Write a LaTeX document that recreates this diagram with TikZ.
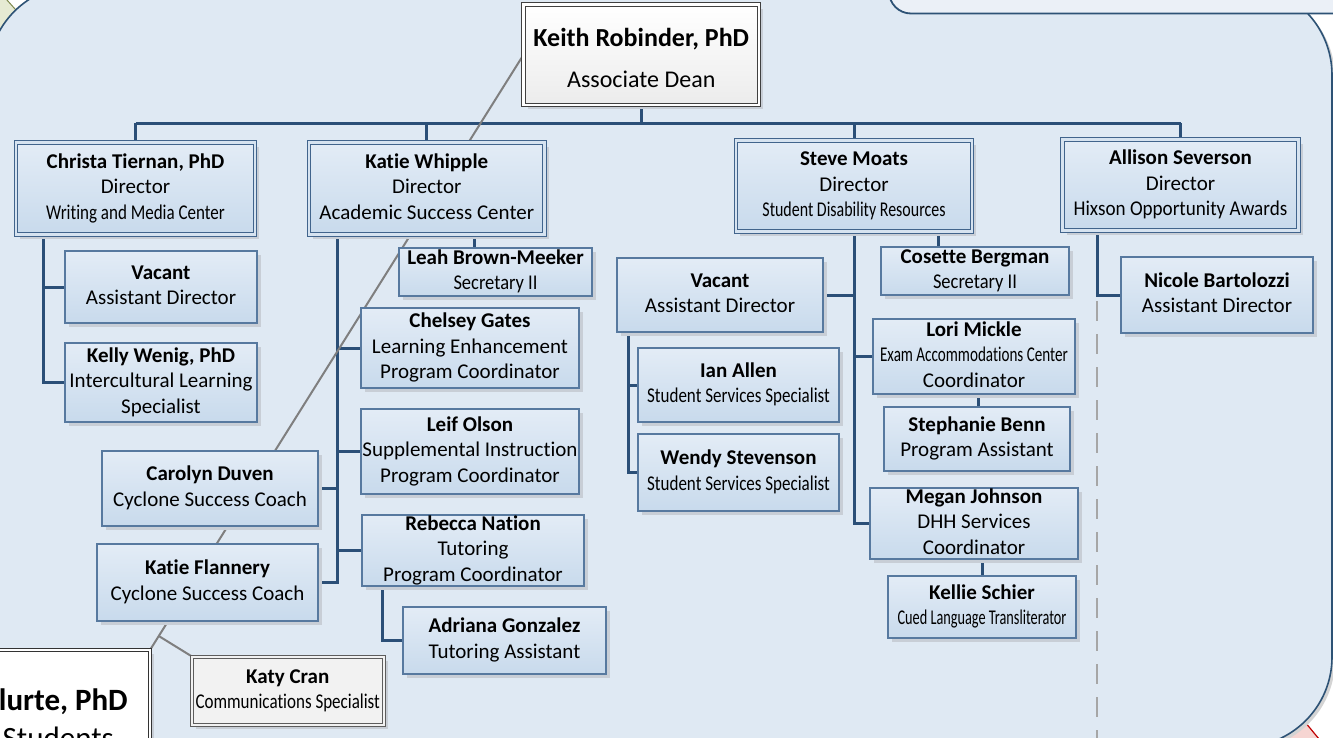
\documentclass[tikz,border=0pt]{standalone}
\usepackage{fontspec}
\setmainfont{Carlito}[Ligatures=NoCommon]
\usetikzlibrary{shadows,calc}
\definecolor{bgblue}{HTML}{DFE9F3}
\definecolor{stripfill}{HTML}{EBF0F7}
\definecolor{regborder}{HTML}{2D5275}
\definecolor{greenish}{HTML}{E6EAD3}
\definecolor{oliveline}{HTML}{7F8A4E}
\definecolor{pinkish}{HTML}{F6D5D2}
\definecolor{redline}{HTML}{C00000}
\definecolor{connblue}{HTML}{2B4F77}
\definecolor{boxborder}{HTML}{57799F}
\definecolor{dirborder}{HTML}{41648C}
\definecolor{boxtop}{HTML}{E3ECF6}
\definecolor{boxbot}{HTML}{C8DAEC}
\definecolor{boxmid}{HTML}{D6E3F0}
\definecolor{shadowgrey}{HTML}{C8CED6}
\definecolor{assocgrey}{HTML}{7F7F7F}
\definecolor{dashgrey}{HTML}{A6A6A6}
\definecolor{darkgreyb}{HTML}{404040}
\definecolor{katyfill}{HTML}{F2F2F2}
\definecolor{regshadow}{HTML}{D4D4D4}
\pgfdeclarelayer{back}
\pgfdeclarelayer{lines}
\pgfsetlayers{back,lines,main}
\newcommand\nar[2]{{\addfontfeatures{FakeStretch=#1}#2}}
\newcommand\sut{\strut}
\newcommand\obox[6]{\node[#1,minimum width=#4pt,minimum height=#5pt] (#2) at (#3) {};\node[txt] (#2-t) at (#2.center) {#6};}
\begin{document}
\begin{tikzpicture}[x=1pt,y=-1pt,
 conn/.style={draw=connblue,line width=3pt},
 assoc/.style={draw=assocgrey,line width=2pt},
 dashline/.style={draw=dashgrey,line width=2pt,dash pattern=on 20pt off 13pt},
 pbox/.style={rectangle,draw=boxborder,line width=1.3pt,top color=boxtop,bottom color=boxbot,inner sep=0pt,outer sep=0pt,drop shadow={shadow xshift=4pt,shadow yshift=-4pt,fill=shadowgrey,opacity=1}},
 dbox/.style={pbox,draw=dirborder,line width=1pt,double=boxmid,double distance=2.6pt},
 kbox/.style={pbox,draw=darkgreyb,line width=1pt,double=white,double distance=2.6pt,top color=white,bottom color=gray!15},
 cbox/.style={pbox,draw=darkgreyb!85,line width=1pt,double=katyfill,double distance=2pt,top color=katyfill,bottom color=katyfill},
 blbox/.style={pbox,draw=black!80,line width=1.6pt,double=white,double distance=1.6pt,top color=white,bottom color=white},
 txt/.style={align=center,inner sep=0pt,font=\fontsize{21}{25.5}\selectfont},
]
\useasboundingbox (0,0) rectangle (1333,737);

% ---------- boxes ----------
\node[kbox,minimum width=235.5pt,minimum height=100.5pt] (keith) at (641.25,54.75) {};
\node[align=center,inner sep=0pt,font=\fontsize{26}{41}\selectfont] (keith-t) at ([yshift=-4.5pt]keith.center) {{\bfseries\strut Keith Robinder, PhD}\\{\fontsize{24}{41}\selectfont\strut Associate Dean}};

\obox{dbox}{christa}{135.5,188.5}{239}{92}{{\bfseries\sut Christa Tiernan, PhD}\\\sut Director\\\nar{0.81}{\sut Writing and Media Center}}
\obox{dbox}{katie}{426.75,188.5}{235.5}{92}{{\bfseries\sut Katie Whipple}\\\sut Director\\\sut Academic Success Center}
\obox{dbox}{steve}{854,186}{236}{91}{{\bfseries\sut Steve Moats}\\\sut Director\\\nar{0.76}{\sut Student Disability Resources}}
\obox{dbox}{allison}{1180.5,185}{236}{91}{{\bfseries\sut Allison Severson}\\\sut Director\\\nar{0.91}{\sut Hixson Opportunity Awards}}

\obox{pbox}{vaca}{161,287}{192}{72}{{\bfseries\sut Vacant}\\\sut Assistant Director}
\obox{pbox}{kelly}{161,382.5}{192}{79}{{\bfseries\sut Kelly Wenig, PhD}\\\sut Intercultural Learning\\\sut Specialist}

\obox{pbox}{leah}{495.5,272}{193}{48}{{\bfseries\sut Leah Brown-Meeker}\\\nar{0.88}{\sut Secretary II}}
\obox{pbox}{chelsey}{470,348}{218}{80}{{\bfseries\sut Chelsey Gates}\\\sut Learning Enhancement\\\sut Program Coordinator}
\obox{pbox}{leif}{470,451.5}{218}{85}{{\bfseries\sut Leif Olson}\\\sut Supplemental Instruction\\\sut Program Coordinator}
\obox{pbox}{rebecca}{473,550.5}{222}{71}{{\bfseries\sut Rebecca Nation}\\\sut Tutoring\\\sut Program Coordinator}
\obox{pbox}{adriana}{504.5,640.5}{203}{67}{{\bfseries\sut Adriana Gonzalez}\\\sut Tutoring Assistant}
\obox{pbox}{carolyn}{210,488.5}{216}{75}{{\bfseries\sut Carolyn Duven}\\\sut Cyclone Success Coach}
\obox{pbox}{katief}{207.5,582.5}{221}{77}{{\bfseries\sut Katie Flannery}\\\sut Cyclone Success Coach}

\obox{pbox}{vacb}{720,295}{206}{74}{{\bfseries\sut Vacant}\\\sut Assistant Director}
\obox{pbox}{ian}{738.5,385}{201}{74}{{\bfseries\sut Ian Allen}\\\nar{0.81}{\sut Student Services Specialist}}
\obox{pbox}{wendy}{738.5,472.5}{201}{77}{{\bfseries\sut Wendy Stevenson}\\\nar{0.81}{\sut Student Services Specialist}}
\obox{pbox}{cosette}{975,271}{188}{48}{{\bfseries\sut Cosette Bergman}\\\nar{0.88}{\sut Secretary II}}
\obox{pbox}{lori}{974,356.5}{202}{75}{{\bfseries\sut Lori Mickle}\\\nar{0.72}{\sut Exam Accommodations Center}\\\sut Coordinator}
\obox{pbox}{stephanie}{977,439}{186}{64}{{\bfseries\sut Stephanie Benn}\\\sut Program Assistant}
\obox{pbox}{megan}{974,523.5}{208}{71}{{\bfseries\sut Megan Johnson}\\\sut DHH Services\\\sut Coordinator}
\obox{pbox}{kellie}{982,607}{188}{62}{{\bfseries\sut Kellie Schier}\\\nar{0.68}{\sut Cued Language Transliterator}}
\obox{pbox}{nicole}{1217,295}{192}{76}{{\bfseries\sut Nicole Bartolozzi}\\\sut Assistant Director}

\obox{cbox}{katy}{287.75,690.75}{191.5}{68.5}{{\bfseries\sut Katy Cran}\\\nar{0.81}{\sut Communications Specialist}}

\node[blbox,minimum width=350pt,minimum height=250pt] (bl) at (-25,775) {};
\node[anchor=base east,inner sep=0pt,font=\bfseries\fontsize{31}{36}\selectfont] (blname) at (128,710) {lurte, PhD};
\node[anchor=base east,inner sep=0pt,font=\fontsize{31}{36}\selectfont] (bltitle) at (114,748) {Students};

% ---------- connectors ----------
\begin{pgfonlayer}{lines}
\coordinate (bus) at (0,123);
\draw[conn] (keith.south) -- (keith.south |- bus);
\draw[conn] (christa.north |- bus) -- (allison.north |- bus);
\draw[conn] (christa.north |- bus) -- (christa.north);
\draw[conn] (katie.north |- bus) -- (katie.north);
\draw[conn] (steve.north |- bus) -- (steve.north);
\draw[conn] (allison.north |- bus) -- (allison.north);
% Writing and Media Center
\coordinate (ct) at (43,0);
\draw[conn] (christa.south -| ct) |- (kelly.west);
\draw[conn] (ct |- vaca.west) -- (vaca.west);
% Academic Success Center
\coordinate (kt) at (337,0);
\draw[conn] (katie.south -| kt) |- (katief.east);
\draw[conn] (kt |- chelsey.west) -- (chelsey.west);
\draw[conn] (kt |- leif.west) -- (leif.west);
\draw[conn] (kt |- rebecca.west) -- (rebecca.west);
\draw[conn] (kt |- carolyn.east) -- (carolyn.east);
\coordinate (lc) at (474,0);
\draw[conn] (katie.south -| lc) -- (leah.north -| lc);
\coordinate (ac) at (382,0);
\draw[conn] (rebecca.south -| ac) |- (adriana.west);
% Student Disability Resources
\draw[conn] (steve.south) |- (megan.west);
\draw[conn] (steve.south |- vacb.east) -- (vacb.east);
\draw[conn] (steve.south |- lori.west) -- (lori.west);
\coordinate (cc) at (938,0);
\draw[conn] (steve.south -| cc) -- (cosette.north -| cc);
\coordinate (vt) at (628,0);
\draw[conn] (vacb.south -| vt) |- (wendy.west);
\draw[conn] (vt |- ian.west) -- (ian.west);
\coordinate (sc) at (978,0);
\draw[conn] (lori.south -| sc) -- (stephanie.north -| sc);
\coordinate (kc) at (982,0);
\draw[conn] (megan.south -| kc) -- (kellie.north -| kc);
% Hixson
\coordinate (at) at (1097,0);
\draw[conn] (allison.south -| at) |- (nicole.west);
\coordinate (dtop) at (1097,301);
\coordinate (dend) at (1097,760);
\draw[dashline] (dtop) -- (dend);
% association line
\draw[assoc] (keith.west) -- (bl.north east);
\coordinate (j) at ($(keith.west)!0.9765!(bl.north east)$);
\draw[assoc] (j) -- (katy.north west);
\end{pgfonlayer}

% ---------- background ----------
\begin{pgfonlayer}{back}
\fill[white] (0,0) rectangle (1333,737);
\fill[greenish] (-10,-10) rectangle (70,70);
\fill[white] (5.2,-2) -- (60,-2) -- (60,30) -- (20,14.6) -- cycle;
\draw[oliveline,line width=1pt] (5.2,-2) -- (20,14.6);
\fill[pinkish] (1240,737) -- (1290,705) -- (1304,720) -- (1319,739) -- cycle;
\draw[redline,line width=1.2pt] (1300,716) -- (1319,739);
\path[fill=regshadow,rounded corners=90pt,xshift=3pt,yshift=-3pt] (-12,1000) -- (-12,-15) -- (1332,-15) -- (1332,747) -- (600,747) -- (600,1000) -- cycle;
\path[fill=bgblue,draw=regborder,line width=1.6pt,rounded corners=90pt] (-12,1000) -- (-12,-15) -- (1332,-15) -- (1332,747) -- (600,747) -- (600,1000) -- cycle;
\path[fill=stripfill,draw=regborder,line width=1.8pt,rounded corners=22pt] (889,-40) -- (889,13.5) -- (1400,13.5) -- (1400,-40) -- cycle;
\end{pgfonlayer}
\end{tikzpicture}
\end{document}
